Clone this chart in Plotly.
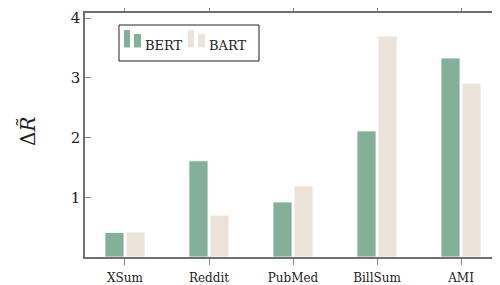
import plotly.graph_objects as go

categories = ["XSum", "Reddit", "PubMed", "BillSum", "AMI"]
bert = [0.41, 1.61, 0.92, 2.11, 3.33]
bart = [0.42, 0.70, 1.19, 3.70, 2.91]
yticks = [1, 2, 3, 4]

GREEN = "#84B09A"
BEIGE = "#ECE3DA"
FONT = "DejaVu Serif, Liberation Serif, serif"

# page body has an 8px default margin; build the figure so it lands in the 500x285 window
OFF = 8
W, H = 500 - OFF, 285 - OFF
L, R, T, B = 85 - OFF, 0, 13 - OFF, 28
PW, PH = W - L - R, H - T - B


def px(x):
    # x given in window pixels
    return (x - OFF - L) / PW


def py(y):
    return (H - B - (y - OFF)) / PH


xs = list(range(len(categories)))

fig = go.Figure()
fig.add_trace(go.Bar(x=xs, y=bert, name="BERT", width=0.226, offset=-0.238,
                     marker=dict(color=GREEN, line=dict(color="rgba(255,255,255,0.8)", width=1))))
fig.add_trace(go.Bar(x=xs, y=bart, name="BART", width=0.226, offset=0.012,
                     marker=dict(color=BEIGE, line=dict(color="rgba(255,255,255,0.8)", width=1))))
# invisible trace for right-side ticks
fig.add_trace(go.Scatter(x=[0], y=[0], yaxis="y2", mode="markers",
                         marker=dict(opacity=0), hoverinfo="skip"))

fig.update_layout(
    width=W, height=H,
    margin=dict(l=L, r=R, t=T, b=B, autoexpand=False),
    paper_bgcolor="white", plot_bgcolor="white",
    barmode="overlay", showlegend=False,
    font=dict(family=FONT, color="#222"),
    xaxis=dict(range=[-0.476, 4.464], tickmode="array", tickvals=xs, ticktext=categories,
               ticks="outside", ticklen=6, tickcolor="#888", tickwidth=1,
               ticklabelstandoff=3,
               showline=True, linecolor="#707070", linewidth=1.5, mirror="allticks",
               showgrid=False, zeroline=False, tickfont=dict(size=12, family=FONT)),
    yaxis=dict(range=[0, 4.084], tickmode="array", tickvals=yticks,
               ticks="inside", ticklen=6, tickcolor="#888", tickwidth=1,
               showline=True, linecolor="#707070", linewidth=1.5, mirror=False,
               showgrid=False, zeroline=False, tickfont=dict(size=15, family=FONT)),
    yaxis2=dict(range=[0, 4.084], overlaying="y", side="right", tickmode="array",
                tickvals=yticks, ticks="inside", ticklen=6, tickcolor="#888",
                showticklabels=False, showline=False, showgrid=False, zeroline=False),
)

shapes = []
annotations = []
# legend box
shapes.append(dict(type="rect", xref="paper", yref="paper",
                   x0=px(119), x1=px(259), y0=py(61), y1=py(25),
                   line=dict(color="#222", width=1), fillcolor="white", layer="above"))
for (x0, color, label, tx) in [(124, GREEN, "BERT", 143), (188, BEIGE, "BART", 207)]:
    shapes.append(dict(type="rect", xref="paper", yref="paper",
                       x0=px(x0), x1=px(x0 + 6), y0=py(47.5), y1=py(30),
                       line=dict(width=0), fillcolor=color, layer="above"))
    shapes.append(dict(type="rect", xref="paper", yref="paper",
                       x0=px(x0 + 10), x1=px(x0 + 17), y0=py(47.5), y1=py(34),
                       line=dict(width=0), fillcolor=color, layer="above"))
    annotations.append(dict(text=label, xref="paper", yref="paper",
                            x=px(tx), y=py(45.5), xanchor="left", yanchor="middle",
                            showarrow=False, font=dict(size=13, family=FONT, color="#222")))

annotations.append(dict(text="Δ<i>R̃</i>", xref="paper", yref="paper",
                        x=px(28), y=py(131), xanchor="center", yanchor="middle",
                        textangle=-90, showarrow=False,
                        font=dict(size=20, family=FONT, color="#222")))

fig.update_layout(shapes=shapes, annotations=annotations)

fig.write_html("out.html")
